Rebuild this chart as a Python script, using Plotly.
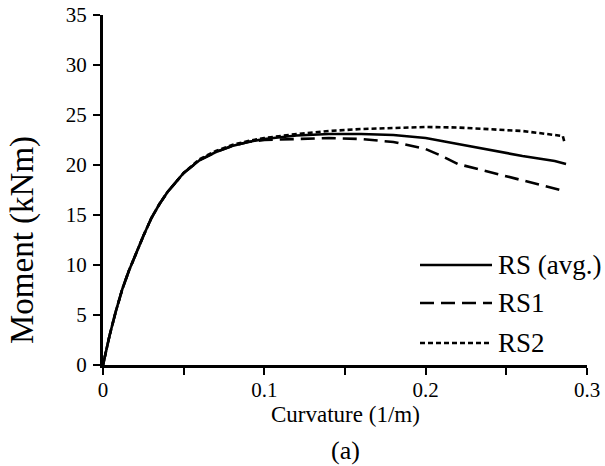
import plotly.graph_objects as go

# ---- data ----
x_avg = [0, 0.004, 0.008, 0.012, 0.016, 0.02, 0.025, 0.03, 0.035, 0.04, 0.045, 0.05, 0.06, 0.07,
         0.08, 0.09, 0.10, 0.11, 0.12, 0.14, 0.16, 0.18, 0.20, 0.22, 0.24, 0.26, 0.28, 0.287]
m_avg = [0, 2.9, 5.4, 7.6, 9.4, 11.0, 12.9, 14.7, 16.1, 17.3, 18.3, 19.2, 20.5, 21.3,
         21.9, 22.3, 22.6, 22.8, 22.95, 23.1, 23.1, 23.0, 22.7, 22.1, 21.5, 20.9, 20.4, 20.1]

x_rs1 = [0, 0.004, 0.008, 0.012, 0.016, 0.02, 0.025, 0.03, 0.035, 0.04, 0.045, 0.05, 0.06, 0.07,
         0.08, 0.09, 0.10, 0.12, 0.14, 0.16, 0.18, 0.20, 0.21, 0.22, 0.23, 0.24, 0.25, 0.26,
         0.27, 0.28, 0.286]
m_rs1 = [0, 2.9, 5.4, 7.6, 9.4, 11.0, 12.9, 14.7, 16.1, 17.3, 18.3, 19.2, 20.5, 21.3,
         21.9, 22.3, 22.5, 22.6, 22.7, 22.6, 22.3, 21.6, 20.9, 20.1, 19.7, 19.3, 18.9, 18.5,
         18.1, 17.7, 17.4]

x_rs2 = [0, 0.004, 0.008, 0.012, 0.016, 0.02, 0.025, 0.03, 0.035, 0.04, 0.045, 0.05, 0.06, 0.07,
         0.08, 0.09, 0.10, 0.12, 0.14, 0.16, 0.18, 0.20, 0.22, 0.24, 0.26, 0.275, 0.285, 0.286]
m_rs2 = [0, 2.9, 5.4, 7.6, 9.4, 11.0, 12.9, 14.7, 16.1, 17.3, 18.3, 19.2, 20.6, 21.4,
         22.0, 22.4, 22.7, 23.1, 23.4, 23.6, 23.7, 23.8, 23.75, 23.6, 23.4, 23.1, 22.9, 22.3]

series_names = ["RS (avg.)", "RS1", "RS2"]
series_dash = ["solid", "14px,7px", "5px,3px"]

x_tickvals = [0, 0.1, 0.2, 0.3]
x_ticktext = ["0", "0.1", "0.2", "0.3"]
y_tickvals = [0, 5, 10, 15, 20, 25, 30, 35]

FONT = "Liberation Serif"

fig = go.Figure()
for xs, ys, name, dash in zip([x_avg, x_rs1, x_rs2], [m_avg, m_rs1, m_rs2], series_names, series_dash):
    fig.add_trace(go.Scatter(x=xs, y=ys, mode="lines", name=name,
                             line=dict(color="black", width=2.6, dash=dash),
                             showlegend=False))

# manual legend (paper coords)
L, R, T, B = 103, 587, 15, 365
W, H = R - L, B - T
def px(xp):
    return (xp - L) / W
def py(yp):
    return (B - yp) / H

legend_rows = [265, 303, 343]
for name, dash, yrow in zip(series_names, series_dash, legend_rows):
    fig.add_shape(type="line", xref="paper", yref="paper",
                  x0=px(420), x1=px(492), y0=py(yrow), y1=py(yrow),
                  line=dict(color="black", width=2.6, dash=dash))
    fig.add_annotation(xref="paper", yref="paper", x=px(496), y=py(yrow),
                       text=name, showarrow=False, xanchor="left", yanchor="middle",
                       font=dict(family=FONT, size=27, color="black"))

# titles
fig.add_annotation(xref="paper", yref="paper", x=px(345), y=py(414), text="Curvature (1/m)",
                   showarrow=False, xanchor="center", yanchor="middle",
                   font=dict(family=FONT, size=23, color="black"))
fig.add_annotation(xref="paper", yref="paper", x=px(345), y=py(450), text="(a)",
                   showarrow=False, xanchor="center", yanchor="middle",
                   font=dict(family=FONT, size=26, color="black"))
fig.add_annotation(xref="paper", yref="paper", x=px(23), y=py(240), text="Moment (kNm)",
                   showarrow=False, xanchor="center", yanchor="middle", textangle=-90,
                   font=dict(family=FONT, size=33, color="black"))

fig.update_layout(
    width=605, height=466,
    margin=dict(l=L, r=605 - R, t=T, b=466 - B, autoexpand=False),
    paper_bgcolor="white", plot_bgcolor="white",
    font=dict(family=FONT, color="black"),
    xaxis=dict(range=[0, 0.3], tickvals=x_tickvals, ticktext=x_ticktext,
               showline=True, linecolor="black", linewidth=3, showgrid=False, zeroline=False,
               ticks="outside", ticklen=7, tickwidth=2, tickcolor="black",
               minor=dict(dtick=0.05, tick0=0, ticks="outside", ticklen=7, tickwidth=2, tickcolor="black"),
               tickfont=dict(family=FONT, size=21, color="black"), ticklabelstandoff=-3,
               automargin=False),
    yaxis=dict(range=[0, 35], tickvals=y_tickvals,
               showline=True, linecolor="black", linewidth=3, showgrid=False, zeroline=False,
               ticks="outside", ticklen=7, tickwidth=2, tickcolor="black",
               tickfont=dict(family=FONT, size=21, color="black"), ticklabelstandoff=2,
               automargin=False),
)

fig.write_html("out.html")
